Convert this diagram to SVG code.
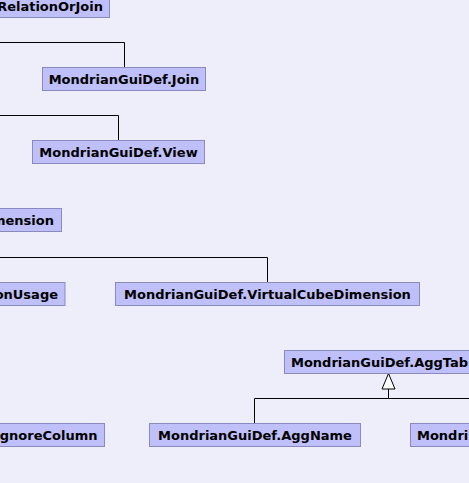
<svg xmlns="http://www.w3.org/2000/svg" width="469" height="483" viewBox="0 0 469 483">
<style>
.bg{fill:#EEEEFA}
.box{fill:#BFBFFA;stroke:#8A8AC0;stroke-width:1}
.t{font-family:"DejaVu Sans",sans-serif;font-weight:bold;font-size:13px;fill:#000}
.c{text-anchor:middle}
.e{text-anchor:end}
.edge{fill:none;stroke:#000;stroke-width:1}
.head{fill:#fff;stroke:#000;stroke-width:1}
</style>
<rect class="bg" x="0" y="0" width="469" height="483"/>
<g id="connectors">
<path class="edge" d="M0 42.5H124.5V67.5"/>
<path class="edge" d="M0 115.5H118.5V140.5"/>
<path class="edge" d="M0 257.5H267.5V282.5"/>
<path class="edge" d="M254.5 423.5V398.5H469"/>
<path class="edge" d="M388.5 398.5V389"/>
<polygon class="head" points="388.5,373.5 382,389 395,389"/>
</g>
<g id="relationorjoin"><rect class="box" x="-10.5" y="-5.5" width="120" height="23"/><text class="t e" x="103" y="11">RelationOrJoin</text></g>
<g id="join"><rect class="box" x="42.5" y="67.5" width="163" height="23"/><text class="t c" x="124" y="84">MondrianGuiDef.Join</text></g>
<g id="view"><rect class="box" x="32.5" y="140.5" width="172" height="23"/><text class="t c" x="118.5" y="157">MondrianGuiDef.View</text></g>
<g id="dimension"><rect class="box" x="-10.5" y="208.5" width="72" height="23"/><text class="t e" x="54" y="225">mension</text></g>
<g id="dimensionusage"><rect class="box" x="-10.5" y="282.5" width="75.5" height="23"/><text class="t e" x="58" y="299">onUsage</text></g>
<g id="virtualcubedimension"><rect class="box" x="115.5" y="282.5" width="304" height="23"/><text class="t c" x="267.5" y="299">MondrianGuiDef.VirtualCubeDimension</text></g>
<g id="aggtable"><rect class="box" x="284.5" y="350.5" width="200" height="23"/><text class="t" x="291" y="367">MondrianGuiDef.AggTab</text></g>
<g id="aggignorecolumn"><rect class="box" x="-10.5" y="423.5" width="115" height="23"/><text class="t e" x="97.5" y="440">gnoreColumn</text></g>
<g id="aggname"><rect class="box" x="149.5" y="423.5" width="211" height="23"/><text class="t c" x="255" y="440">MondrianGuiDef.AggName</text></g>
<g id="aggother"><rect class="box" x="410.5" y="423.5" width="100" height="23"/><text class="t" x="417" y="440">Mondri</text></g>
</svg>
